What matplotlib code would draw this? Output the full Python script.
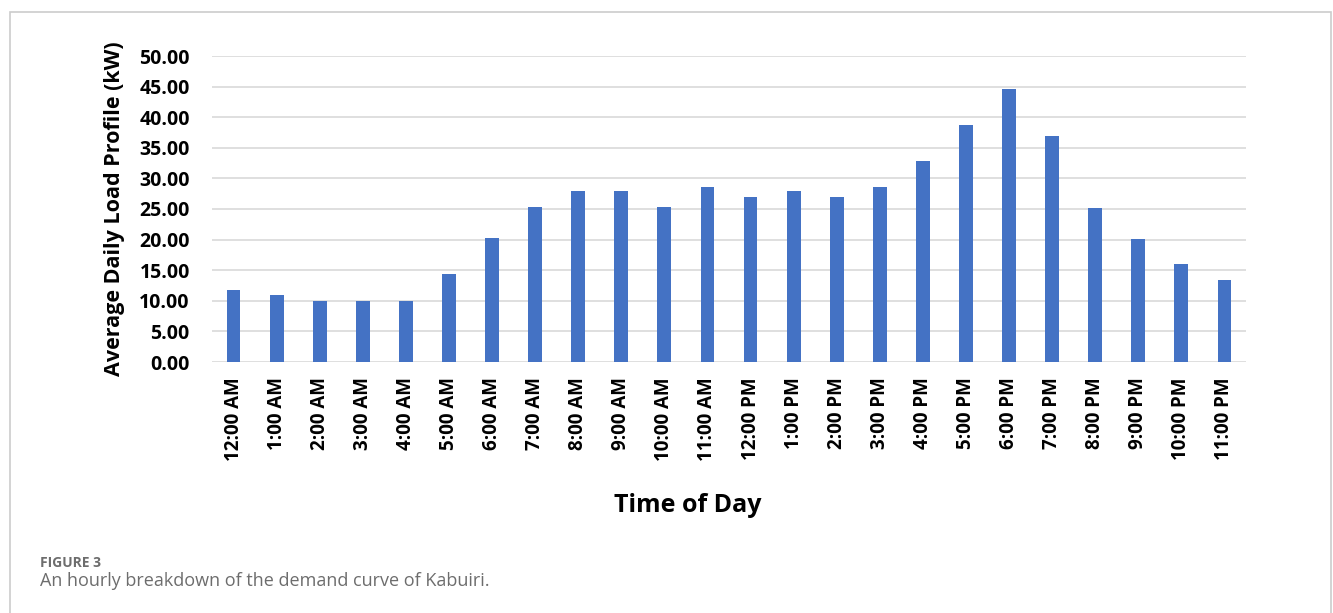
import matplotlib.pyplot as plt
from matplotlib.patches import Rectangle

hours = ["12:00 AM", "1:00 AM", "2:00 AM", "3:00 AM", "4:00 AM", "5:00 AM",
         "6:00 AM", "7:00 AM", "8:00 AM", "9:00 AM", "10:00 AM", "11:00 AM",
         "12:00 PM", "1:00 PM", "2:00 PM", "3:00 PM", "4:00 PM", "5:00 PM",
         "6:00 PM", "7:00 PM", "8:00 PM", "9:00 PM", "10:00 PM", "11:00 PM"]
load_kw = [11.8, 11.0, 10.0, 10.0, 10.0, 14.4,
           20.2, 25.3, 27.9, 27.9, 25.3, 28.6,
           27.0, 27.9, 27.0, 28.6, 32.8, 38.8,
           44.6, 37.0, 25.2, 20.1, 16.0, 13.4]
y_ticks = [0, 5, 10, 15, 20, 25, 30, 35, 40, 45, 50]

plt.rcParams['font.family'] = ['Open Sans', 'DejaVu Sans']

fig = plt.figure(figsize=(13.33, 6.13), dpi=100)
W, H = 1333, 613

# outer frame around chart and caption
fig.patches.append(Rectangle((10 / W, -0.05), 1321 / W, 1.05 - 12 / H,
                             transform=fig.transFigure, fill=False,
                             edgecolor='#cccccc', linewidth=1.2))

ax = fig.add_axes([212 / W, 1 - 362 / H, (1246 - 212) / W, (362 - 56) / H])
x = range(len(hours))
ax.bar(x, load_kw, width=0.32, color='#4472c4', zorder=3)

ax.set_ylim(0, 50)
ax.set_xlim(-0.5, len(hours) - 0.5)
ax.set_yticks(y_ticks)
ax.set_yticklabels([f"{v:.2f}" for v in y_ticks], fontsize=14, fontweight='bold')
ax.set_xticks(list(x))
ax.set_xticklabels(hours, rotation=90, fontsize=13.5, fontweight='bold')
ax.tick_params(length=0, pad=16, axis='y')
ax.tick_params(length=0, pad=11, axis='x')
ax.grid(axis='y', color='#d9d9d9', linewidth=1.2, zorder=0)
for s in ax.spines.values():
    s.set_visible(False)

ax.set_ylabel("Average Daily Load Profile (kW)", fontsize=15.5, fontweight='bold', labelpad=10)
fig.text(688 / W, 1 - 506 / H, "Time of Day", ha='center', va='center',
         fontsize=18, fontweight='bold')

fig.text(40 / W, 1 - 563 / H, "FIGURE 3", fontsize=10, fontweight='bold',
         color='#6d6d6d', va='center')
fig.text(40 / W, 1 - 581 / H, "An hourly breakdown of the demand curve of Kabuiri.",
         fontsize=13, color='#6d6d6d', va='center')

fig.savefig("out.png", dpi=100)
